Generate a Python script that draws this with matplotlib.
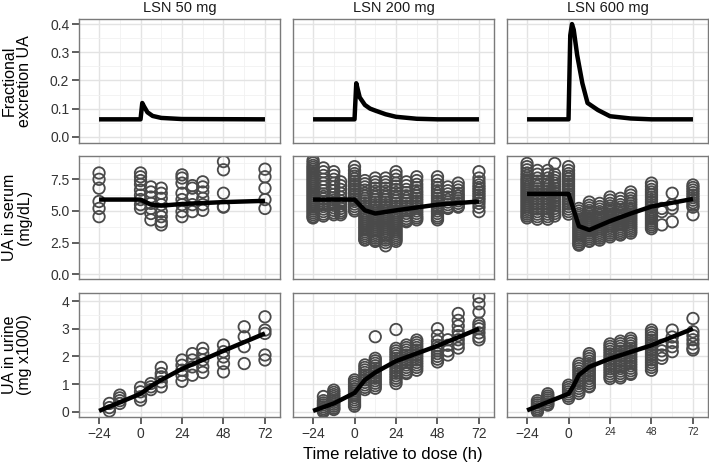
import matplotlib
matplotlib.use("Agg")
import matplotlib.pyplot as plt
from matplotlib.ticker import MultipleLocator, FixedLocator

plt.rcParams['font.family'] = ['Liberation Sans', 'DejaVu Sans']

doses = ["LSN 50 mg", "LSN 200 mg", "LSN 600 mg"]
row_titles = ["Fractional\nexcretion UA", "UA in serum\n(mg/dL)", "UA in urine\n(mg x1000)"]
x_ticks = [-24, 0, 24, 48, 72]
x_label = "Time relative to dose (h)"

# ---- Fractional excretion (model lines) ----
fe_50_t = [-24, 0, 1, 2, 4, 7, 12, 24, 72]
fe_50_v = [0.062, 0.062, 0.12, 0.108, 0.087, 0.074, 0.067, 0.063, 0.062]
fe_200_t = [-24, 0, 1, 3, 6, 9, 12, 18, 24, 36, 48, 72]
fe_200_v = [0.062, 0.062, 0.19, 0.14, 0.113, 0.1, 0.093, 0.08, 0.071, 0.064, 0.062, 0.062]
fe_600_t = [-24, 0, 1, 2, 3, 5, 8, 11, 17, 24, 36, 48, 72]
fe_600_v = [0.062, 0.062, 0.36, 0.40, 0.38, 0.29, 0.19, 0.12, 0.095, 0.073, 0.065, 0.062, 0.062]

# ---- Serum UA observations (time -> values) ----
serum_50 = {
    -24: [8.0, 7.5, 6.8, 5.75, 5.2, 4.55],
    0: [8.0, 7.7, 7.4, 7.1, 6.65, 6.25, 5.9, 5.5, 5.2],
    6: [6.9, 6.5, 6.1, 5.6, 5.2, 4.8, 4.3],
    12: [6.8, 6.4, 6.0, 5.5, 4.95, 4.55, 4.15, 3.9],
    24: [7.85, 7.6, 7.2, 6.4, 5.9, 5.5, 4.95, 4.55],
    30: [7.0, 6.8, 6.1, 5.5, 4.95],
    36: [7.3, 6.9, 6.5, 6.0, 5.5, 5.05],
    48: [8.9, 8.25, 6.4, 5.35, 5.3],
    72: [8.3, 7.7, 6.8, 5.9, 5.2],
}
serum_200 = {
    -24: [9.0, 8.8, 8.6, 8.45, 8.3, 8.15, 8.0, 7.85, 7.7, 7.55, 7.4, 7.25, 7.1, 6.95, 6.8, 6.65,
          6.5, 6.35, 6.2, 6.05, 5.9, 5.75, 5.6, 5.45, 5.3, 5.15, 5.0, 4.85, 4.7, 4.55, 4.45],
    -18: [8.4, 8.1, 7.8, 7.5, 7.2, 6.9, 6.6, 6.35, 6.15, 5.95, 5.75, 5.55, 5.35, 5.15, 4.95, 4.75, 4.6],
    -12: [8.1, 7.8, 7.5, 7.2, 6.9, 6.6, 6.3, 6.05, 5.85, 5.65, 5.45, 5.25, 5.05, 4.85, 4.7],
    -8: [7.3, 7.0, 6.7, 6.4, 6.1, 5.8, 5.6, 5.4, 5.2, 5.0, 4.85, 4.7],
    0: [8.5, 8.2, 7.95, 7.75, 7.55, 7.35, 7.15, 6.95, 6.75, 6.55, 6.35, 6.15, 5.95, 5.75, 5.55, 5.35, 5.15, 5.0],
    6: [7.4, 7.15, 6.9, 6.65, 6.4, 6.2, 6.0, 5.8, 5.6, 5.4, 5.2, 5.0, 4.85, 4.7, 4.55, 4.4, 4.25,
        4.1, 3.95, 3.8, 3.65, 3.5, 3.35, 3.2, 3.05, 2.9, 2.75, 2.7],
    12: [7.6, 7.3, 7.05, 6.8, 6.55, 6.3, 6.1, 5.9, 5.7, 5.5, 5.3, 5.1, 4.95, 4.8, 4.65, 4.5, 4.35,
         4.2, 4.05, 3.9, 3.75, 3.6, 3.45, 3.3, 3.15, 3.0, 2.85, 2.7, 2.6],
    18: [7.6, 7.3, 7.05, 6.8, 6.55, 6.3, 6.1, 5.9, 5.7, 5.5, 5.3, 5.1, 4.95, 4.8, 4.65, 4.5, 4.35,
         4.2, 4.05, 3.9, 3.75, 3.6, 3.45, 3.3, 3.15, 3.0, 2.85, 2.7, 2.5, 2.25],
    24: [8.1, 7.8, 7.5, 7.2, 6.95, 6.7, 6.45, 6.2, 6.0, 5.8, 5.6, 5.4, 5.2, 5.0, 4.85, 4.7, 4.55,
         4.4, 4.25, 4.1, 3.95, 3.8, 3.65, 3.5, 3.35, 3.2, 3.05, 2.9, 2.75, 2.6],
    30: [7.3, 7.0, 6.7, 6.45, 6.2, 6.0, 5.8, 5.6, 5.4, 5.2, 5.0, 4.8, 4.6, 4.4, 4.25, 4.15],
    36: [7.7, 7.4, 7.1, 6.85, 6.6, 6.4, 6.2, 6.0, 5.8, 5.6, 5.4, 5.2, 5.0, 4.8, 4.6, 4.45, 4.3],
    48: [7.7, 7.4, 7.1, 6.85, 6.6, 6.4, 6.2, 6.0, 5.8, 5.6, 5.4, 5.2, 5.0, 4.8, 4.6, 4.45, 4.3],
    54: [6.9, 6.6, 6.35, 6.1, 5.9, 5.7, 5.5, 5.3, 5.2],
    60: [7.2, 6.9, 6.65, 6.4, 6.2, 6.0, 5.8, 5.6, 5.4, 5.3],
    72: [8.1, 7.6, 7.3, 7.05, 6.85, 6.65, 6.45, 6.25, 6.05, 5.85, 5.6, 5.3, 4.95],
}
serum_600 = {
    -24: [8.75, 8.5, 8.25, 8.0, 7.8, 7.6, 7.45, 7.3, 7.15, 7.0, 6.85, 6.7, 6.55, 6.4, 6.25, 6.1,
          5.95, 5.8, 5.65, 5.5, 5.35, 5.2, 5.05, 4.9, 4.75, 4.6, 4.45],
    -18: [8.2, 7.9, 7.6, 7.35, 7.15, 6.95, 6.75, 6.55, 6.35, 6.15, 5.95, 5.75, 5.55, 5.35, 5.15,
          4.95, 4.75, 4.55, 4.35],
    -12: [8.2, 7.9, 7.6, 7.35, 7.15, 6.95, 6.75, 6.55, 6.35, 6.15, 5.95, 5.75, 5.55, 5.35, 5.15,
          4.95, 4.75, 4.55, 4.35],
    -8: [8.75, 7.9, 7.65, 7.4, 7.2, 7.0, 6.8, 6.6, 6.4, 6.2, 6.0, 5.8, 5.6, 5.4, 5.2, 5.0, 4.8, 4.6],
    0: [8.5, 8.2, 7.95, 7.75, 7.55, 7.35, 7.15, 6.95, 6.75, 6.55, 6.35, 6.15, 5.95, 5.75, 5.55,
        5.35, 5.15, 4.95, 4.75],
    6: [5.2, 5.0, 4.8, 4.65, 4.5, 4.35, 4.2, 4.05, 3.9, 3.75, 3.6, 3.45, 3.3, 3.15, 3.0, 2.85,
        2.7, 2.55, 2.4, 2.3],
    12: [5.7, 5.45, 5.25, 5.05, 4.9, 4.75, 4.6, 4.45, 4.3, 4.15, 4.0, 3.85, 3.7, 3.55, 3.4, 3.25,
         3.1, 2.95, 2.8, 2.65, 2.6],
    18: [5.6, 5.35, 5.15, 4.95, 4.8, 4.65, 4.5, 4.35, 4.2, 4.05, 3.9, 3.75, 3.6, 3.45, 3.3, 3.15,
         3.0, 2.85, 2.7],
    24: [6.1, 5.85, 5.6, 5.4, 5.2, 5.05, 4.9, 4.75, 4.6, 4.45, 4.3, 4.15, 4.0, 3.85, 3.7, 3.55,
         3.4, 3.25, 3.1, 2.95],
    30: [6.0, 5.75, 5.5, 5.3, 5.1, 4.95, 4.8, 4.65, 4.5, 4.35, 4.2, 4.05, 3.9, 3.75, 3.6, 3.45,
         3.3, 3.15, 3.1],
    36: [6.5, 6.25, 6.0, 5.8, 5.6, 5.4, 5.2, 5.05, 4.9, 4.75, 4.6, 4.45, 4.3, 4.15, 4.0, 3.85,
         3.7, 3.55, 3.4, 3.25],
    48: [7.2, 6.95, 6.7, 6.5, 6.3, 6.1, 5.9, 5.7, 5.5, 5.3, 5.1, 4.95, 4.8, 4.65, 4.5, 4.35, 4.2,
         4.05, 3.9, 3.75, 3.6],
    54: [5.2, 4.95, 3.9],
    60: [6.4, 5.5, 5.2, 4.15],
    72: [7.05, 6.85, 6.65, 6.45, 6.25, 6.05, 5.85, 5.65, 5.45, 5.3, 4.7],
}
serum_50_t = [-24, 0, 6, 12, 24, 48, 72]
serum_50_v = [5.9, 5.9, 5.5, 5.42, 5.55, 5.7, 5.8]
serum_200_t = [-24, 0, 6, 12, 24, 48, 72]
serum_200_v = [5.9, 5.9, 5.05, 4.8, 5.05, 5.5, 5.75]
serum_600_t = [-24, 0, 6, 12, 24, 36, 48, 72]
serum_600_v = [6.35, 6.35, 3.8, 3.5, 4.2, 4.8, 5.35, 5.95]

# ---- Urine UA observations (time -> values) ----
urine_50 = {
    -18: [0.3, 0.15, 0.03],
    -12: [0.6, 0.5, 0.4, 0.3],
    0: [0.88, 0.72, 0.54, 0.42],
    6: [1.02, 0.9, 0.8],
    12: [1.6, 1.38, 1.26, 1.08, 0.9],
    24: [1.87, 1.68, 1.5, 1.32, 1.1],
    30: [2.1, 1.87, 1.62, 1.32],
    36: [2.29, 2.1, 1.87, 1.62, 1.42],
    48: [2.41, 2.17, 1.98, 1.74, 1.44],
    60: [3.07, 2.71, 2.35, 1.74],
    72: [3.43, 2.95, 2.83, 2.05, 1.87],
}
urine_200 = {
    -18: [0.55, 0.4, 0.32, 0.25, 0.18, 0.11, 0.05, 0.0],
    -12: [0.78, 0.7, 0.62, 0.55, 0.48, 0.41, 0.34, 0.27, 0.2, 0.13, 0.08],
    0: [1.15, 1.07, 0.99, 0.91, 0.83, 0.75, 0.67, 0.59, 0.51, 0.43, 0.35, 0.27, 0.2],
    6: [1.69, 1.6, 1.51, 1.42, 1.33, 1.24, 1.15, 1.06, 0.97, 0.88, 0.8],
    12: [2.71, 1.93, 1.84, 1.75, 1.66, 1.57, 1.48, 1.39, 1.3, 1.21, 1.12, 1.03, 0.94, 0.85],
    24: [2.97, 2.29, 2.2, 2.11, 2.02, 1.93, 1.84, 1.75, 1.66, 1.57, 1.48, 1.39, 1.3, 1.21, 1.12, 1.02],
    30: [2.41, 2.32, 2.23, 2.14, 2.05, 1.96, 1.87, 1.78, 1.69, 1.6, 1.51, 1.42, 1.38],
    36: [2.59, 2.5, 2.41, 2.32, 2.23, 2.14, 2.05, 1.96, 1.87, 1.78, 1.69, 1.6, 1.5],
    48: [3.0, 2.75, 2.55, 2.4, 2.3, 2.2, 2.1, 2.0, 1.9, 1.8],
    54: [2.6, 2.4, 2.2, 2.05],
    60: [3.55, 3.3, 3.1, 2.9, 2.75, 2.6, 2.45, 2.3],
    72: [4.15, 3.9, 3.6, 3.2, 3.1, 3.0, 2.85, 2.7, 2.6],
}
urine_600 = {
    -18: [0.4, 0.32, 0.25, 0.18, 0.11, 0.05, 0.0],
    -12: [0.65, 0.57, 0.5, 0.43, 0.36, 0.29, 0.24],
    0: [0.96, 0.88, 0.8, 0.72, 0.64, 0.56, 0.48],
    6: [1.74, 1.65, 1.56, 1.47, 1.38, 1.29, 1.2, 1.11, 1.02, 0.93, 0.84, 0.75, 0.66],
    12: [2.1, 2.01, 1.92, 1.83, 1.74, 1.65, 1.56, 1.47, 1.38, 1.29, 1.2, 1.11, 1.02, 0.93, 0.9],
    24: [2.45, 2.36, 2.27, 2.18, 2.09, 2.0, 1.91, 1.82, 1.73, 1.64, 1.55, 1.46, 1.37, 1.28, 1.2],
    30: [2.55, 2.46, 2.37, 2.28, 2.19, 2.1, 2.01, 1.92, 1.83, 1.74, 1.65, 1.56, 1.47, 1.38, 1.29, 1.22],
    36: [2.65, 2.56, 2.47, 2.38, 2.29, 2.2, 2.11, 2.02, 1.93, 1.84, 1.75, 1.66, 1.57, 1.48, 1.39, 1.35],
    48: [2.95, 2.86, 2.77, 2.68, 2.59, 2.5, 2.41, 2.32, 2.23, 2.14, 2.05, 1.96, 1.87, 1.78, 1.69, 1.6, 1.5],
    54: [2.4, 2.2, 2.05, 1.93],
    60: [2.95, 2.7, 2.5, 2.35, 2.17],
    72: [3.37, 2.89, 2.75, 2.6, 2.45, 2.3, 2.23],
}
urine_50_t = [-24, 0, 6, 12, 24, 48, 72]
urine_50_v = [0.03, 0.65, 0.92, 1.15, 1.55, 2.2, 2.83]
urine_200_t = [-24, -12, 0, 6, 12, 24, 48, 72]
urine_200_v = [0.03, 0.3, 0.68, 1.15, 1.42, 1.83, 2.38, 3.0]
urine_600_t = [-24, -12, 0, 3, 6, 12, 24, 48, 72]
urine_600_v = [0.05, 0.35, 0.65, 0.95, 1.33, 1.62, 1.92, 2.4, 3.0]

fe_lines = [(fe_50_t, fe_50_v), (fe_200_t, fe_200_v), (fe_600_t, fe_600_v)]
serum_obs = [serum_50, serum_200, serum_600]
serum_lines = [(serum_50_t, serum_50_v), (serum_200_t, serum_200_v), (serum_600_t, serum_600_v)]
urine_obs = [urine_50, urine_200, urine_600]
urine_lines = [(urine_50_t, urine_50_v), (urine_200_t, urine_200_v), (urine_600_t, urine_600_v)]

W, H = 709, 468
fig = plt.figure(figsize=(W / 100, H / 100), dpi=100)

col_left = [79, 293, 507]
col_w = 201
row_top = [19, 156, 293]
row_h = [124, 123, 124]

ylims = [(-0.022, 0.418), (-0.37, 9.34), (-0.19, 4.29)]
ymajor = [0.1, 2.5, 1.0]
yfmt = ["{:.1f}", "{:.1f}", "{:.0f}"]

PT_COLOR = "#4a4a4a"
for r in range(3):
    for c in range(3):
        ax = fig.add_axes([col_left[c] / W, 1 - (row_top[r] + row_h[r]) / H, col_w / W, row_h[r] / H])
        ax.set_xlim(-35.6, 80.7)
        ax.set_ylim(*ylims[r])
        ax.xaxis.set_major_locator(FixedLocator(x_ticks))
        ax.xaxis.set_minor_locator(FixedLocator([-36, -12, 12, 36, 60]))
        ax.yaxis.set_major_locator(MultipleLocator(ymajor[r]))
        ax.yaxis.set_minor_locator(MultipleLocator(ymajor[r] / 2))
        ax.grid(which="major", color="#e3e3e3", linewidth=1.0, zorder=0)
        ax.grid(which="minor", color="#f1f1f1", linewidth=0.6, zorder=0)
        ax.set_axisbelow(True)
        for s in ax.spines.values():
            s.set_color("#7a7a7a")
            s.set_linewidth(1.0)
        ax.tick_params(which="minor", length=0)
        ax.tick_params(which="major", length=5, width=1.1, color="#333333",
                       labelsize=10, labelcolor="#333333", pad=2)
        if r == 0:
            t, v = fe_lines[c]
            ax.plot(t, v, color="black", lw=3.2, solid_capstyle="butt", solid_joinstyle="round", zorder=3)
        else:
            obs = serum_obs[c] if r == 1 else urine_obs[c]
            for tt, vals in obs.items():
                ax.scatter([tt] * len(vals), vals, s=68, facecolors="none",
                           edgecolors=PT_COLOR, linewidths=1.3, zorder=2)
            t, v = (serum_lines if r == 1 else urine_lines)[c]
            ax.plot(t, v, color="black", lw=3.2, solid_capstyle="butt", solid_joinstyle="round", zorder=3)
        if c == 0:
            ax.yaxis.set_major_formatter(plt.FuncFormatter(lambda val, pos, f=yfmt[r]: f.format(val)))
        else:
            ax.tick_params(axis="y", which="both", left=False, labelleft=False)
        if r == 2:
            ax.set_xticklabels([str(x).replace("-", "\u2212") for x in x_ticks])
            if c == 2:
                for lab in ax.get_xticklabels()[2:]:
                    lab.set_fontsize(7.5)
        else:
            ax.tick_params(axis="x", which="both", bottom=False, labelbottom=False)

for c in range(3):
    fig.text((col_left[c] + col_w / 2) / W, 1 - 8 / H, doses[c], ha="center", va="center",
             fontsize=10.5, color="#1a1a1a")

for r in range(3):
    fig.text(17 / W, 1 - (row_top[r] + row_h[r] / 2) / H, row_titles[r], rotation=90,
             ha="center", va="center", fontsize=11.5, linespacing=1.0, color="black")

fig.text((79 + 707) / 2 / W, 1 - 455 / H, x_label, ha="center", va="center", fontsize=12)

fig.savefig("out.png", dpi=100)
